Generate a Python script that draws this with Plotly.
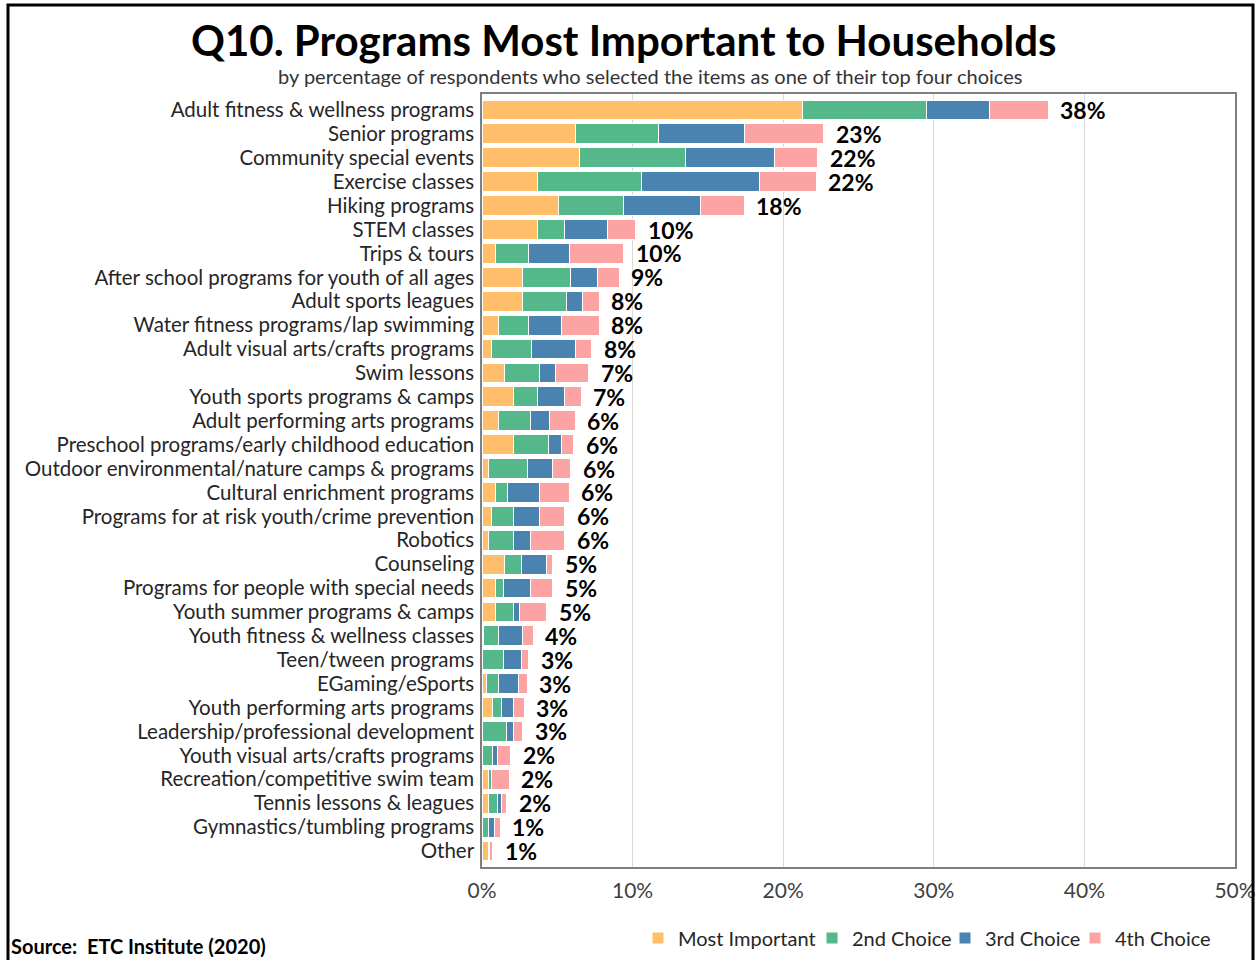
import plotly.graph_objects as go

categories = [
    "Adult fitness & wellness programs", "Senior programs", "Community special events",
    "Exercise classes", "Hiking programs", "STEM classes", "Trips & tours",
    "After school programs for youth of all ages", "Adult sports leagues",
    "Water fitness programs/lap swimming", "Adult visual arts/crafts programs",
    "Swim lessons", "Youth sports programs & camps", "Adult performing arts programs",
    "Preschool programs/early childhood education",
    "Outdoor environmental/nature camps & programs", "Cultural enrichment programs",
    "Programs for at risk youth/crime prevention", "Robotics", "Counseling",
    "Programs for people with special needs", "Youth summer programs & camps",
    "Youth fitness & wellness classes", "Teen/tween programs", "EGaming/eSports",
    "Youth performing arts programs", "Leadership/professional development",
    "Youth visual arts/crafts programs", "Recreation/competitive swim team",
    "Tennis lessons & leagues", "Gymnastics/tumbling programs", "Other",
]
most_important = [21.3, 6.2, 6.5, 3.7, 5.1, 3.7, 0.9, 2.7, 2.7, 1.1, 0.6, 1.5, 2.1, 1.1, 2.1, 0.4,
                  0.9, 0.6, 0.4, 1.5, 0.9, 0.9, 0.1, 0.0, 0.3, 0.7, 0.0, 0.0, 0.45, 0.45, 0.05, 0.45]
second_choice = [8.2, 5.5, 7.0, 6.9, 4.3, 1.8, 2.2, 3.2, 2.9, 2.0, 2.7, 2.3, 1.6, 2.1, 2.3, 2.6,
                 0.8, 1.5, 1.7, 1.1, 0.5, 1.2, 1.0, 1.4, 0.8, 0.6, 1.6, 0.7, 0.15, 0.55, 0.4, 0.05]
third_choice = [4.2, 5.7, 5.9, 7.8, 5.1, 2.8, 2.7, 1.8, 1.1, 2.2, 2.9, 1.1, 1.8, 1.3, 0.9, 1.7,
                2.1, 1.7, 1.1, 1.7, 1.8, 0.4, 1.6, 1.2, 1.3, 0.8, 0.5, 0.3, 0.0, 0.3, 0.4, 0.0]
fourth_choice = [3.9, 5.3, 2.9, 3.8, 2.9, 1.9, 3.6, 1.4, 1.1, 2.5, 1.1, 2.2, 1.1, 1.7, 0.8, 1.2,
                 2.0, 1.7, 2.3, 0.4, 1.5, 1.8, 0.7, 0.5, 0.6, 0.7, 0.6, 0.9, 1.2, 0.35, 0.35, 0.2]
total_labels = ["38%", "23%", "22%", "22%", "18%", "10%", "10%", "9%", "8%", "8%", "8%", "7%",
                "7%", "6%", "6%", "6%", "6%", "6%", "6%", "5%", "5%", "5%", "4%", "3%", "3%",
                "3%", "3%", "2%", "2%", "2%", "1%", "1%"]
series_names = ["Most Important", "2nd Choice", "3rd Choice", "4th Choice"]
series_colors = ["#FFBE69", "#55B88A", "#4A82B0", "#FCA4A4"]
x_ticks = [0, 10, 20, 30, 40, 50]

FONT = "Lato"
W, H = 1260, 960
ML, MR, MT, MB = 482, 25, 94, 93
PW = W - ML - MR
PH = H - MT - MB

def cx(p):
    return p / W
def cy(p):
    return 1 - p / H

legend_ids = ["legend", "legend2", "legend3", "legend4"]
legend_text_x = [678, 852, 985, 1115]

fig = go.Figure()
for name, vals, col, lid in zip(series_names, [most_important, second_choice, third_choice, fourth_choice],
                                series_colors, legend_ids):
    fig.add_trace(go.Bar(
        y=categories, x=vals, name=name, orientation="h", legend=lid,
        marker=dict(color=col, line=dict(color="white", width=1)),
        hoverinfo="x+y+name",
    ))

totals = [a + b + c + d for a, b, c, d in zip(most_important, second_choice, third_choice, fourth_choice)]
for cat, tot, lab in zip(categories, totals, total_labels):
    fig.add_annotation(x=tot, y=cat, text="<b>" + lab + "</b>", showarrow=False,
                       xanchor="left", xshift=10, font=dict(family=FONT, size=23, color="black"))

# title and subtitle
fig.add_annotation(xref="paper", yref="paper", x=(624 - ML) / PW, y=(H - MB - 40) / PH,
                   text="<b>Q10. Programs Most Important to Households</b>",
                   showarrow=False, xanchor="center", yanchor="middle", font=dict(family=FONT, size=42, color="black"))
fig.add_annotation(xref="paper", yref="paper", x=(650 - ML) / PW, y=(H - MB - 76) / PH,
                   text="by percentage of respondents who selected the items as one of their top four choices",
                   showarrow=False, xanchor="center", yanchor="middle", font=dict(family=FONT, size=20, color="#333333"))
fig.add_annotation(xref="paper", yref="paper", x=(9 - ML) / PW, y=(H - MB - 946) / PH,
                   text="<b>Source:\u00a0 ETC Institute (2020)</b>",
                   showarrow=False, xanchor="left", yanchor="middle", font=dict(family=FONT, size=20, color="black"))

# outer frame
fig.add_shape(type="rect", xref="paper", yref="paper",
              x0=(8 - ML) / PW, x1=(1253 - ML) / PW,
              y0=(H - MB - 963) / PH, y1=(H - MB - 5) / PH,
              line=dict(color="black", width=3), fillcolor="rgba(0,0,0,0)", layer="above")

legend_layouts = {}
for lid, tx in zip(legend_ids, legend_text_x):
    legend_layouts[lid] = dict(orientation="h", xref="container", yref="container", x=cx(tx - 40), xanchor="left",
                               y=cy(938), yanchor="middle",
                               font=dict(family=FONT, size=20, color="#262626"),
                               itemwidth=30, bgcolor="rgba(0,0,0,0)")

fig.update_layout(
    width=W, height=H, barmode="stack", bargap=0.17,
    margin=dict(l=ML, r=MR, t=MT, b=MB, autoexpand=False),
    plot_bgcolor="white", paper_bgcolor="white",
    font=dict(family=FONT, size=20, color="#262626"),
    showlegend=True,
    xaxis=dict(range=[0, 50], tickvals=x_ticks, ticktext=[f"{v}%" for v in x_ticks],
               showgrid=True, gridcolor="#D9D9D9", gridwidth=1, zeroline=False,
               showline=True, linecolor="#7F7F7F", linewidth=1.5, mirror=True, automargin=False,
               tickfont=dict(family=FONT, size=21, color="#404040"), ticks="", ticklen=0,
               ticklabelstandoff=4),
    yaxis=dict(autorange="reversed", showline=True, linecolor="#7F7F7F", linewidth=1.5, mirror=True,
               tickmode="array", tickvals=categories, ticktext=categories,
               tickfont=dict(family=FONT, size=20.5, color="#262626"), ticks="", ticklen=0,
               automargin=False, ticklabelstandoff=2),
    **legend_layouts,
)

fig.write_html("out.html", config={"displayModeBar": False},
               post_script="document.body.style.margin='0px';document.body.style.overflow='hidden';")
